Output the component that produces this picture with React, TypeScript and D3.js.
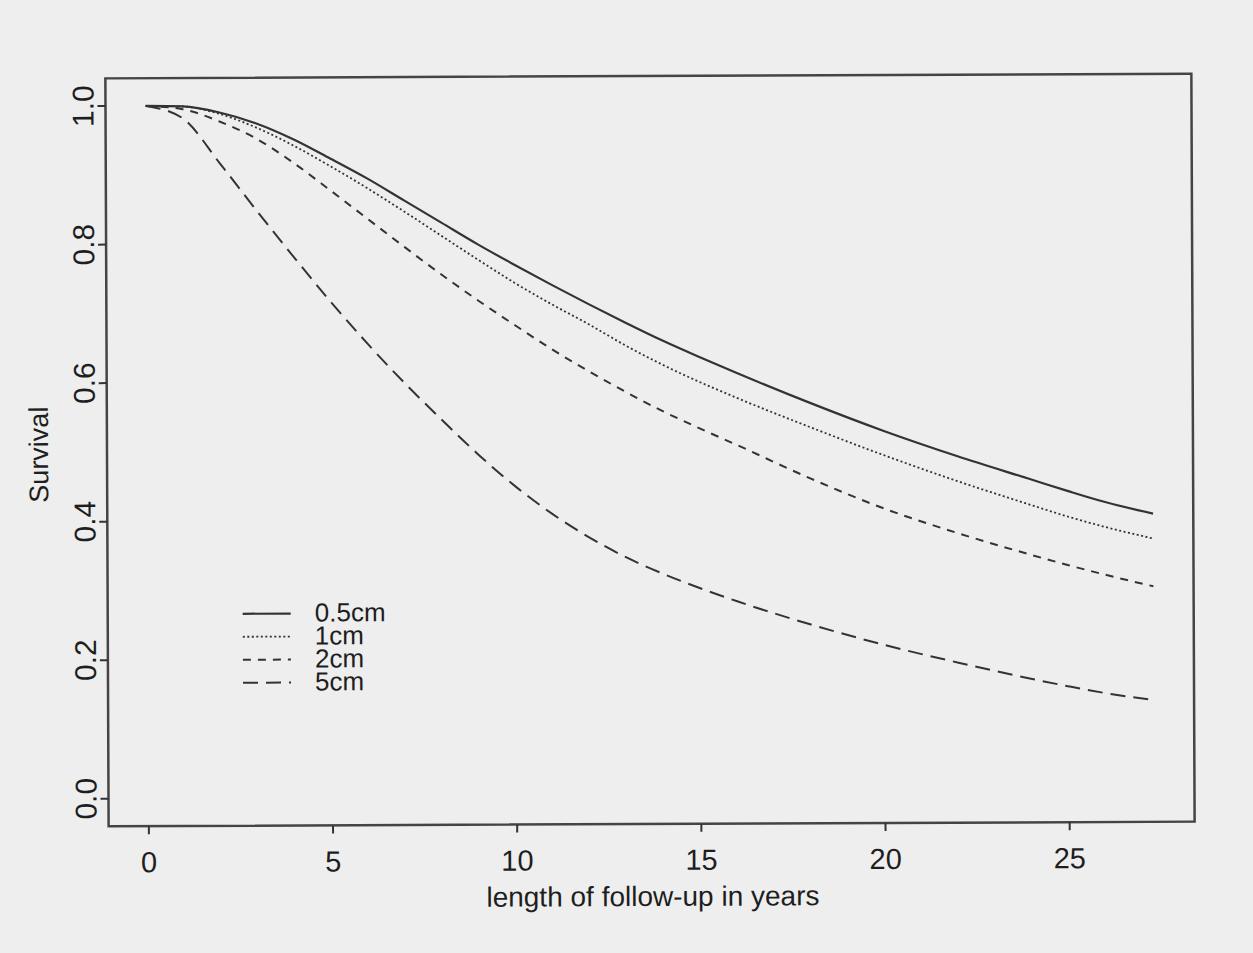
import React from "react";
import * as d3 from "d3";

// follow-up time (years) and survival estimates
const years = [0, 1, 2, 3, 4, 5, 6, 7, 8, 9, 10, 11, 12, 13, 14, 15, 16, 18, 20, 22, 24, 25, 26, 27.3];
const surv05 = [1.0, 0.999, 0.99, 0.974, 0.951, 0.923, 0.894, 0.862, 0.83, 0.798, 0.768, 0.739, 0.711, 0.684, 0.658, 0.634, 0.611, 0.567, 0.526, 0.489, 0.455, 0.438, 0.422, 0.405];
const surv1 = [1.0, 0.999, 0.988, 0.968, 0.942, 0.912, 0.88, 0.846, 0.811, 0.776, 0.742, 0.711, 0.682, 0.651, 0.623, 0.598, 0.575, 0.532, 0.491, 0.453, 0.418, 0.401, 0.386, 0.369];
const surv2 = [1.0, 0.995, 0.977, 0.952, 0.917, 0.877, 0.836, 0.795, 0.755, 0.717, 0.681, 0.646, 0.614, 0.584, 0.556, 0.531, 0.507, 0.458, 0.414, 0.378, 0.346, 0.331, 0.317, 0.3];
const surv5 = [1.0, 0.982, 0.917, 0.848, 0.781, 0.716, 0.655, 0.598, 0.545, 0.494, 0.448, 0.408, 0.374, 0.345, 0.321, 0.3, 0.281, 0.247, 0.217, 0.191, 0.167, 0.156, 0.146, 0.136];

const seriesNames = ["0.5cm", "1cm", "2cm", "5cm"];
const xTicks = [0, 5, 10, 15, 20, 25];
const yTicks = [0, 0.2, 0.4, 0.6, 0.8, 1.0];

const W = 1253;
const H = 953;
const ink = "#333333";
const textInk = "#1e1e1e";
const font = "'Liberation Sans', Arial, Helvetica, sans-serif";

export default function App() {
  // R style 4% padding on both axes
  const x = d3.scaleLinear().domain([-1.092, 28.392]).range([107, 1193]);
  const y = d3.scaleLinear().domain([-0.04, 1.04]).range([824, 76]);

  const line = d3
    .line<number>()
    .x((_, i) => x(years[i]))
    .y((d) => y(d))
    .curve(d3.curveMonotoneX);

  const series = [
    { name: seriesNames[0], values: surv05, dash: "none", width: 2.2 },
    { name: seriesNames[1], values: surv1, dash: "2,2.5", width: 1.8 },
    { name: seriesNames[2], values: surv2, dash: "8,7", width: 2 },
    { name: seriesNames[3], values: surv5, dash: "15,8", width: 2 },
  ];

  const [x0, x1] = x.range();
  const [y0, y1] = y.range();

  return (
    <svg
      width={W}
      height={H}
      style={{ position: "absolute", left: 0, top: 0 }}
      fontFamily={font}
    >
      <rect width={W} height={H} fill="#eeeeee" />
      {/* the scan is tilted a little */}
      <g transform="rotate(-0.25, 650, 452)">
        {series.map((s) => (
          <path
            key={s.name}
            d={line(s.values) ?? ""}
            fill="none"
            stroke={ink}
            strokeWidth={s.width}
            strokeDasharray={s.dash}
          />
        ))}

        <rect
          x={x0}
          y={y1}
          width={x1 - x0}
          height={y0 - y1}
          fill="none"
          stroke="#444444"
          strokeWidth={2.5}
        />

        {/* x axis */}
        {xTicks.map((t) => (
          <g key={"x" + t}>
            <line x1={x(t)} x2={x(t)} y1={y0} y2={y0 + 8} stroke={ink} strokeWidth={2} />
            <text x={x(t)} y={y0 + 46} fontSize={29} textAnchor="middle" fill={textInk}>
              {t}
            </text>
          </g>
        ))}
        <text x={651} y={906} fontSize={28} textAnchor="middle" fill={textInk}>
          length of follow-up in years
        </text>

        {/* y axis */}
        {yTicks.map((t) => (
          <g key={"y" + t}>
            <line x1={x0 - 8} x2={x0} y1={y(t)} y2={y(t)} stroke={ink} strokeWidth={2} />
            <text
              transform={`translate(${x0 - 12}, ${y(t)}) rotate(-90)`}
              fontSize={30}
              textAnchor="middle"
              fill={textInk}
            >
              {t.toFixed(1)}
            </text>
          </g>
        ))}
        <text
          transform={`translate(48, 452) rotate(-90)`}
          fontSize={27}
          textAnchor="middle"
          fill={textInk}
        >
          Survival
        </text>

        {/* legend, rows packed as tightly as in the original */}
        {series.map((s, i) => (
          <g key={"lg" + s.name} transform={`translate(242, ${612 + i * 23})`}>
            <line x1={0} x2={48} y1={0} y2={0} stroke={ink} strokeWidth={s.width} strokeDasharray={s.dash} />
            <text x={72} y={8} fontSize={26} fill={textInk}>
              {s.name}
            </text>
          </g>
        ))}
      </g>
    </svg>
  );
}
